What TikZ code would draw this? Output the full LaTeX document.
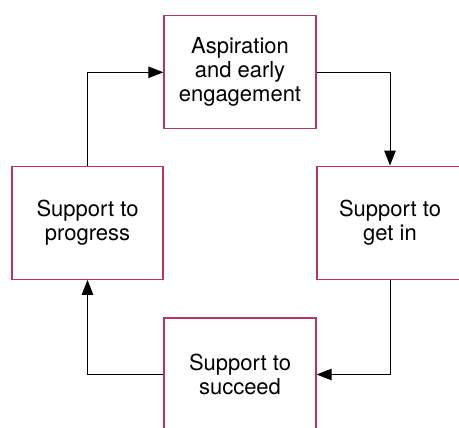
\documentclass[tikz,border=0pt]{standalone}
\usepackage{fontspec}
\setmainfont{TeX Gyre Heros}
\usetikzlibrary{arrows.meta}
\definecolor{boxred}{RGB}{190,52,88}
\begin{document}
\begin{tikzpicture}[x=1pt,y=-1pt,
  stage/.style={draw=boxred, line width=1.3pt, fill=white, rectangle,
    minimum height=113pt, inner sep=0pt, align=center,
    font=\fontsize{22pt}{24pt}\selectfont},
  flow/.style={draw=black, line width=1pt,
    -{Triangle[length=15pt,width=11.5pt]}}]
  \useasboundingbox (0,0) rectangle (459,428);
  \node[stage, minimum width=152pt] (aspire)  at (240,72.3)  {Aspiration\\and early\\engagement};
  \node[stage, minimum width=146pt] (getin)   at (390,222.7) {Support to\\get in};
  \node[stage, minimum width=151pt] (progress) at (87.5,222.7) {Support to\\progress};
  \node[stage, minimum width=152pt] (succeed) at (240,374.5) {Support to\\succeed};
  \draw[flow] (progress.north) |- (aspire.west);
  \draw[flow] (aspire.east) -| (getin.north);
  \draw[flow] (getin.south) |- (succeed.east);
  \draw[flow] (succeed.west) -| (progress.south);
\end{tikzpicture}
\end{document}
